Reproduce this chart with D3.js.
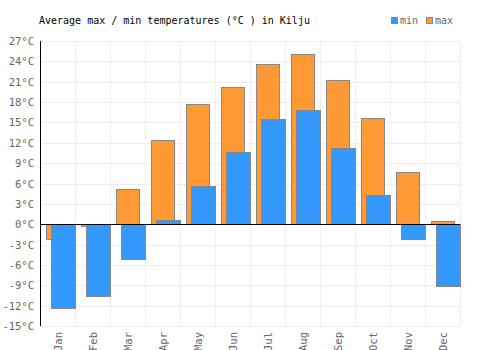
<!DOCTYPE html>
<html>
<head>
<meta charset="utf-8">
<script src="https://cdn.jsdelivr.net/npm/d3@7"></script>
<style>
  body { margin: 0; background: #fff; }
  svg text { font-family: "DejaVu Sans Mono", monospace; }
</style>
</head>
<body>
<div id="chart"></div>
<script>
const months = ["Jan", "Feb", "Mar", "Apr", "May", "Jun", "Jul", "Aug", "Sep", "Oct", "Nov", "Dec"];
const maxTemps = [-2.2, -0.2, 5.2, 12.4, 17.7, 20.2, 23.6, 25.1, 21.2, 15.6, 7.7, 0.45];
const minTemps = [-12.4, -10.6, -5.2, 0.6, 5.6, 10.6, 15.5, 16.9, 11.2, 4.3, -2.2, -9.1];
const yTicks = [-15, -12, -9, -6, -3, 0, 3, 6, 9, 12, 15, 18, 21, 24, 27];

const width = 500;
const height = 350;
const margin = { top: 41, right: 40, bottom: 24, left: 40 };
const plotW = width - margin.left - margin.right;
const plotH = height - margin.top - margin.bottom - 0; // 285

const svg = d3.select("#chart").append("svg")
    .attr("width", width)
    .attr("height", height);

const g = svg.append("g")
    .attr("transform", `translate(${margin.left}, ${margin.top})`);

const x = d3.scaleBand()
    .domain(months)
    .range([0, plotW]);

const y = d3.scaleLinear()
    .domain([-15, 27])
    .range([285, 0]);

// grid
g.selectAll(".hgrid")
    .data(yTicks)
    .enter().append("line")
    .attr("x1", 0).attr("x2", plotW)
    .attr("y1", d => Math.round(y(d)) + 0.5)
    .attr("y2", d => Math.round(y(d)) + 0.5)
    .attr("stroke", "#eee");

g.selectAll(".vgrid")
    .data(months.concat(["end"]))
    .enter().append("line")
    .attr("x1", (d, i) => Math.round(i * x.step()) + 0.5)
    .attr("x2", (d, i) => Math.round(i * x.step()) + 0.5)
    .attr("y1", 0).attr("y2", 285)
    .attr("stroke", "#eee");

// max bars (orange)
g.selectAll(".max")
    .data(maxTemps)
    .enter().append("rect")
    .attr("x", (d, i) => x(months[i]) + 6.5)
    .attr("width", 23)
    .attr("y", d => Math.round(y(Math.max(0, d))) + 0.5)
    .attr("height", d => Math.abs(Math.round(y(d)) - Math.round(y(0))))
    .attr("fill", "#ff9933")
    .attr("stroke", "#888");

// min bars (blue)
g.selectAll(".min")
    .data(minTemps)
    .enter().append("rect")
    .attr("x", (d, i) => x(months[i]) + 11.5)
    .attr("width", 24)
    .attr("y", d => Math.round(y(Math.max(0, d))) + 0.5)
    .attr("height", d => Math.abs(Math.round(y(d)) - Math.round(y(0))))
    .attr("fill", "#3399ff")
    .attr("stroke", "#888");

// axis lines
g.append("line")
    .attr("x1", 0.5).attr("x2", 0.5)
    .attr("y1", 0).attr("y2", 285)
    .attr("stroke", "#000");
g.append("line")
    .attr("x1", 0).attr("x2", plotW)
    .attr("y1", Math.round(y(0)) + 0.5).attr("y2", Math.round(y(0)) + 0.5)
    .attr("stroke", "#000");

// y tick labels
g.selectAll(".ylab")
    .data(yTicks)
    .enter().append("text")
    .attr("x", -6)
    .attr("y", d => y(d) + 4)
    .attr("text-anchor", "end")
    .attr("fill", "#666")
    .style("font-size", "10.5px")
    .text(d => `${d}°C`);

// x tick labels
g.selectAll(".xlab")
    .data(months)
    .enter().append("text")
    .attr("transform", d => `translate(${x(d) + x.bandwidth() / 2 + 4}, 291) rotate(-90)`)
    .attr("text-anchor", "end")
    .attr("fill", "#666")
    .style("font-size", "10.5px")
    .text(d => d);

// title
svg.append("text")
    .attr("x", 39)
    .attr("y", 24)
    .style("font-size", "10px")
    .attr("fill", "#000")
    .text("Average max / min temperatures (°C ) in Kilju");

// legend
const legend = [["min", "#3399ff", 391], ["max", "#ff9933", 426]];
legend.forEach(([label, color, lx]) => {
    svg.append("rect")
        .attr("x", lx + 0.5).attr("y", 17.5)
        .attr("width", 6).attr("height", 6)
        .attr("fill", color)
        .attr("stroke", "#888");
    svg.append("text")
        .attr("x", lx + 9)
        .attr("y", 24)
        .style("font-size", "10px")
        .attr("fill", "#666")
        .text(label);
});
</script>
</body>
</html>
